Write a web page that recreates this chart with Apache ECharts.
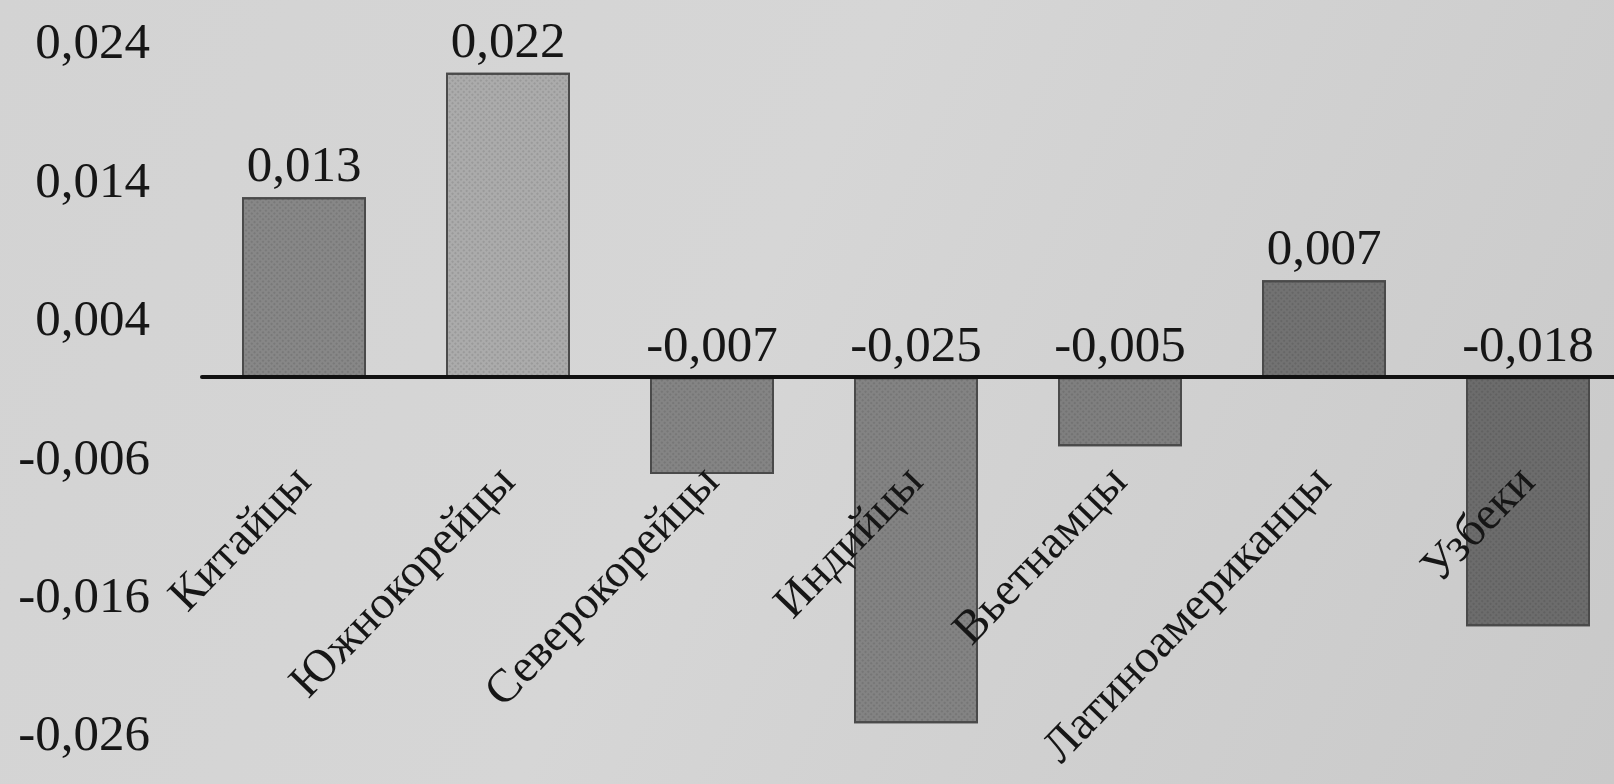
<!DOCTYPE html>
<html>
<head>
<meta charset="utf-8">
<script src="https://cdn.jsdelivr.net/npm/echarts@6/dist/echarts.min.js"></script>
<style>
html,body{margin:0;padding:0;width:1614px;height:784px;overflow:hidden;background:#d2d2d2;}
#c{width:1614px;height:784px;}
</style>
</head>
<body>
<div id="c"></div>
<script>
const CATEGORIES = ['Китайцы', 'Южнокорейцы', 'Северокорейцы', 'Индийцы', 'Вьетнамцы', 'Латиноамериканцы', 'Узбеки'];
const VALUES = [0.013, 0.022, -0.007, -0.025, -0.005, 0.007, -0.018];
const Y_TICKS = [-0.026, -0.016, -0.006, 0.004, 0.014, 0.024];
const BAR_COLORS = ['#878787', '#ababab', '#848484', '#838383', '#7f7f7f', '#727272', '#6c6c6c'];

const fmt = v => Number(v).toFixed(3).replace('.', ',');
const FONT = "'Liberation Serif', 'DejaVu Serif', serif";

const chart = echarts.init(document.getElementById('c'));
chart.setOption({
  animation: false,
  backgroundColor: {
    type: 'linear', x: 0, y: 0, x2: 1, y2: 1,
    colorStops: [
      {offset: 0, color: '#d3d3d3'},
      {offset: 0.45, color: '#d6d6d6'},
      {offset: 1, color: '#c9c9c9'}
    ]
  },
  grid: {left: 202, width: 1428, top: 45, bottom: 47, containLabel: false, outerBoundsMode: 'none'},
  xAxis: {
    type: 'category',
    data: CATEGORIES,
    z: 5,
    axisLine: {onZero: true, lineStyle: {color: '#111', width: 4}},
    axisTick: {show: false},
    axisLabel: {
      interval: 0, rotate: 46, margin: -262,
      fontFamily: FONT, fontSize: 47, color: '#161616'
    },
    splitLine: {show: false}
  },
  yAxis: {
    type: 'value',
    min: -0.026, max: 0.024,
    axisLine: {show: false},
    axisTick: {show: false},
    splitLine: {show: false},
    axisLabel: {
      customValues: Y_TICKS,
      formatter: fmt,
      margin: 52,
      fontFamily: FONT, fontSize: 51, color: '#161616'
    }
  },
  series: [{
    type: 'bar',
    data: VALUES,
    barWidth: 124,
    itemStyle: {
      color: p => BAR_COLORS[p.dataIndex],
      borderColor: '#4a4a4a',
      borderWidth: 2,
      decal: {
        symbol: 'rect', symbolSize: 1,
        color: 'rgba(0,0,0,0.10)',
        dashArrayX: [[2, 2]], dashArrayY: [2, 2],
        rotation: Math.PI / 4
      }
    },
    label: {
      show: true, position: 'top', distance: 4,
      formatter: p => fmt(p.value),
      fontFamily: FONT, fontSize: 51, color: '#161616'
    }
  }]
});
</script>
</body>
</html>
